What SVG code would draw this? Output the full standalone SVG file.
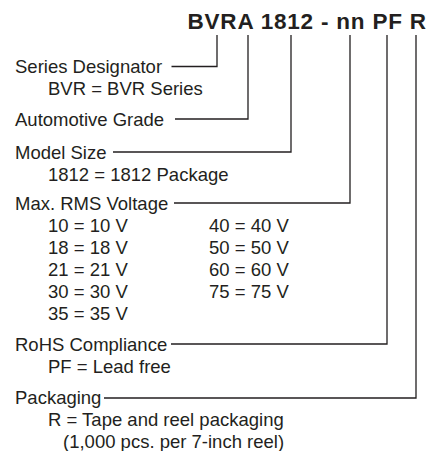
<svg xmlns="http://www.w3.org/2000/svg" width="438" height="451" viewBox="0 0 438 451">
<style>
.t{font-family:"Liberation Sans",Arial,sans-serif;font-size:18.5px;fill:#231f20}
.h{font-family:"Liberation Sans",Arial,sans-serif;font-size:22.5px;font-weight:bold;fill:#231f20;letter-spacing:0.8px}
.c{fill:none;stroke:#231f20;stroke-width:1.3}
</style>
<rect width="438" height="451" fill="#fff"/>
<g id="title"><text class="h" x="187.5" y="28.5">BVRA 1812 - nn PF R</text></g>
<g id="connectors">
<polyline class="c" points="171.5,66.5 217,66.5 217,35"/>
<polyline class="c" points="175,119 248,119 248,35"/>
<polyline class="c" points="113,152 291,152 291,35"/>
<polyline class="c" points="174,203 350,203 350,35"/>
<polyline class="c" points="171,344 387,344 387,35"/>
<polyline class="c" points="104,398 416,398 416,35"/>
</g>
<g id="series"><text class="t" x="15" y="72.5">Series Designator</text><text class="t" x="48" y="94.5">BVR = BVR Series</text></g>
<g id="automotive"><text class="t" x="15" y="125.5">Automotive Grade</text></g>
<g id="model"><text class="t" x="15" y="158.5">Model Size</text><text class="t" x="48" y="180.5">1812 = 1812 Package</text></g>
<g id="voltage"><text class="t" x="15" y="209.5">Max. RMS Voltage</text>
<text class="t" x="48" y="231.5">10 = 10 V</text><text class="t" x="48" y="253.5">18 = 18 V</text><text class="t" x="48" y="275.5">21 = 21 V</text><text class="t" x="48" y="297.5">30 = 30 V</text><text class="t" x="48" y="319.5">35 = 35 V</text>
<text class="t" x="209" y="231.5">40 = 40 V</text><text class="t" x="209" y="253.5">50 = 50 V</text><text class="t" x="209" y="275.5">60 = 60 V</text><text class="t" x="209" y="297.5">75 = 75 V</text></g>
<g id="rohs"><text class="t" x="15" y="350.5">RoHS Compliance</text><text class="t" x="48" y="372.5">PF = Lead free</text></g>
<g id="packaging"><text class="t" x="15" y="404">Packaging</text><text class="t" x="48" y="426">R = Tape and reel packaging</text><text class="t" x="63" y="447.5">(1,000 pcs. per 7-inch reel)</text></g>
</svg>
